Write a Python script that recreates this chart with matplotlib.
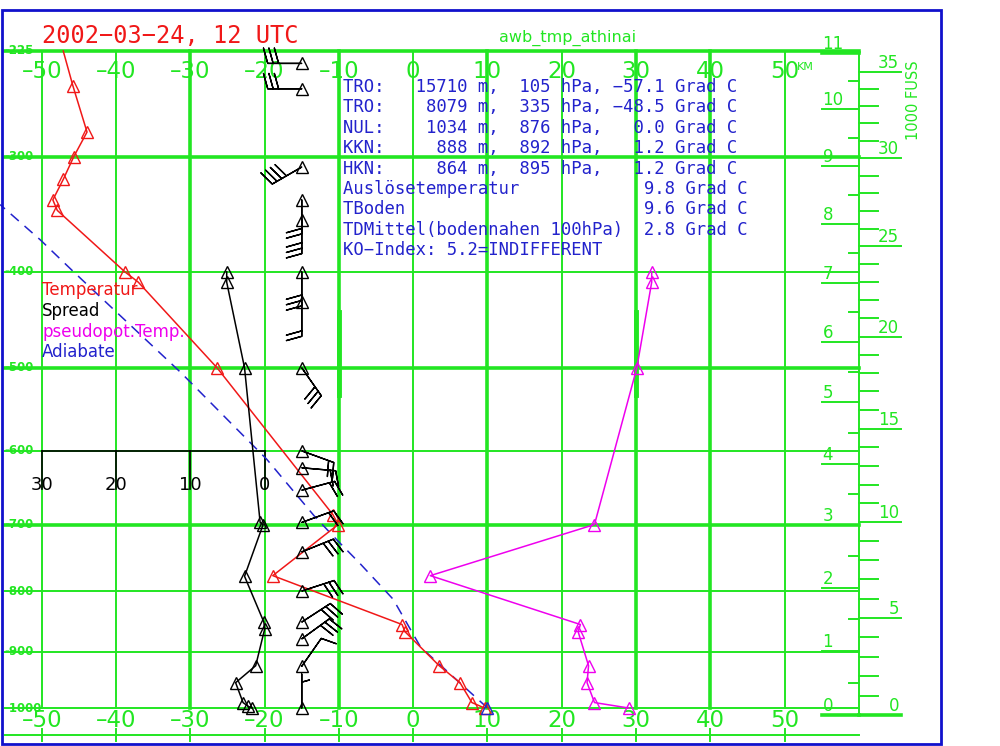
import numpy as np
import matplotlib
matplotlib.use("Agg")
import matplotlib.pyplot as plt
from matplotlib.transforms import Affine2D
from matplotlib.patches import Rectangle

# --- sounding 2002-03-24 12 UTC, Athinai ---
temp_p = [225, 248, 281, 300, 318, 335, 344, 400, 410, 500, 686, 700, 776, 854, 866, 924, 954, 990, 1000]
temp_t = [-47.1, -45.8, -43.9, -45.7, -47.1, -48.5, -47.9, -38.8, -37.0, -26.4, -10.8, -10.1,
          -18.9, -1.5, -1.1, 3.5, 6.3, 7.9, 9.6]

spread_p = [400, 410, 500, 697, 700, 777, 850, 862, 924, 954, 990, 997, 1000]
spread_v = [5.1, 5.1, 2.7, 0.6, 0.2, 2.7, 0.1, 0.0, 1.2, 3.9, 2.9, 2.2, 1.7]

thetae_p = [1000, 990, 954, 924, 866, 854, 776, 700, 500, 410, 400]
thetae_t = [29.0, 24.4, 23.4, 23.6, 22.2, 22.5, 2.3, 24.4, 30.1, 32.1, 32.1]

adiab_p = [1000, 892, 813, 757, 722, 688, 611, 506, 400, 370, 339]
adiab_t = [10.0, 1.0, -2.7, -7.2, -10.3, -13.3, -19.7, -31.2, -45.7, -50.2, -55.6]

wind_p = [233, 250, 308, 335, 352, 400, 430, 500, 600, 622, 652, 697, 740, 800, 850, 878, 925, 1000]
wind_dir = [270, 270, 240, 180, 180, 180, 180, 145, 110, 95, 75, 70, 68, 72, 57, 54, 35, 360]
wind_kt = [30, 30, 40, 20, 30, 30, 20, 30, 20, 20, 20, 20, 30, 30, 30, 30, 10, 5]

info_lines = [
    "TRO:   15710 m,  105 hPa, −57.1 Grad C",
    "TRO:    8079 m,  335 hPa, −48.5 Grad C",
    "NUL:    1034 m,  876 hPa,   0.0 Grad C",
    "KKN:     888 m,  892 hPa,   1.2 Grad C",
    "HKN:     864 m,  895 hPa,   1.2 Grad C",
    "Auslösetemperatur            9.8 Grad C",
    "TBoden                       9.6 Grad C",
    "TDMittel(bodennahen 100hPa)  2.8 Grad C",
    "KO−Index: 5.2=INDIFFERENT",
]

temp_ticks = [-50, -40, -30, -20, -10, 0, 10, 20, 30, 40, 50]
p_ticks = [225, 300, 400, 500, 600, 700, 800, 900, 1000]
spread_ticks = [30, 20, 10, 0]
km_ticks = list(range(0, 12))
kft_ticks = list(range(0, 36))

GREEN = "#22e622"
BLUE = "#2222cc"
RED = "#f01818"
MAG = "#ee00ee"

# --- Stueve-type geometry (p ** 0.286) ---
W, H = 1000, 746
K = 0.286
X0, DX = 41.7, 7.43          # pixel of -50 C, pixels per degree
Y_TOP, Y_BOT = 51.0, 708.0   # pixels of 225 and 1000 hPa
a_top, a_bot = 225 ** K, 1000 ** K
per_px = (a_bot - a_top) / (Y_BOT - Y_TOP)


def fwd(p):
    return np.power(np.clip(p, 1e-6, None), K)


def inv(y):
    return np.power(np.clip(y, 1e-6, None), 1.0 / K)


def p_at(ypx):
    return (a_top + (ypx - Y_TOP) * per_px) ** (1.0 / K)


def t_at(xpx):
    return -50 + (xpx - X0) / DX


def isa_p(z_km):
    return 1013.25 * (1 - 0.0065 * z_km * 1000 / 288.15) ** 5.2559


fig = plt.figure(figsize=(W / 100, H / 100), dpi=100)
ax = fig.add_axes([0, 0, 1, 1])
ax.set_yscale("function", functions=(fwd, inv))
ax.axis("off")
pix = Affine2D().scale(1.0 / W, -1.0 / H).translate(0, 1) + fig.transFigure

# grid
thick_t = [-30, -10, 10, 30, 40]
for t in temp_ticks:
    ax.plot([t, t], [225, 1000], color=GREEN, lw=2.6 if t in thick_t else 1.4, zorder=1)
thick_p = [225, 300, 500, 700]
for p in p_ticks:
    ax.plot([t_at(5), 60], [p, p], color=GREEN, lw=2.6 if p in thick_p else 1.4, zorder=1)
    ax.text(t_at(4), p, "-%d" % p, color=GREEN, fontsize=8.5, fontweight="bold",
            ha="left", va="center", zorder=2)
for t in [-10, 30]:
    ax.plot([t, t], [440, 531], color=GREEN, lw=3.5, zorder=1)

# temperature labels top and bottom, bottom ruler
for t in temp_ticks:
    lab = ("–%d" % -t) if t < 0 else "%d" % t
    for yy in (72, 721):
        ax.text(t, p_at(yy), lab, color=GREEN, fontsize=16.5, ha="center", va="center", zorder=2)
    ax.plot([t, t], [p_at(729), p_at(741)], color=GREEN, lw=1.4, zorder=1)
ax.plot([t_at(5), 60], [p_at(735)] * 2, color=GREEN, lw=1.4, zorder=1)
ax.text(797, 67, "KM", transform=pix, color=GREEN, fontsize=8, ha="left", va="center")

# height axis: km (left) and 1000 ft (right)
ax.plot([60, 60], [isa_p(0), 225], color=GREEN, lw=1.4, zorder=1)
for z in km_ticks:
    pz = isa_p(z)
    ax.plot([55, 60], [pz, pz], color=GREEN, lw=2.6 if z in (0, 11) else 1.4, zorder=1)
    ax.text(55.1, pz, "%d" % z, color=GREEN, fontsize=12, ha="left", va="bottom", zorder=2)
    if z < 11:
        ph = isa_p(z + 0.5)
        ax.plot([58.6, 60], [ph, ph], color=GREEN, lw=1.4, zorder=1)
for f in kft_ticks:
    pf = isa_p(f * 0.3048)
    if f % 5 == 0:
        ax.plot([60, 65.7], [pf, pf], color=GREEN, lw=2.6 if f == 0 else 1.4, zorder=1)
        ax.text(65.4, pf, "%d" % f, color=GREEN, fontsize=12, ha="right", va="bottom", zorder=2)
    else:
        ax.plot([60, 62.55], [pf, pf], color=GREEN, lw=1.4, zorder=1)
ax.text(913, 100, "1000 FUSS", transform=pix, color=GREEN, fontsize=10.5,
        rotation=90, ha="center", va="center")

# spread scale at 600 hPa
ax.plot([-50, -20], [600, 600], color="k", lw=1.2, zorder=2)
for s in spread_ticks:
    ax.plot([-20 - s] * 2, [600, p_at(489)], color="k", lw=1.2, zorder=2)
    ax.text(-20 - s, p_at(485), "%d" % s, color="k", fontsize=13, ha="center", va="center", zorder=2)

# curves
mk = dict(marker="^", ms=8, mfc="none", mew=1.0)
ax.plot(temp_t, temp_p, color=RED, lw=1.1, markevery=list(range(1, len(temp_p))), zorder=4, **mk)
ax.plot([-20 - s for s in spread_v], spread_p, color="k", lw=1.1, zorder=4, **mk)
ax.plot(thetae_t, thetae_p, color=MAG, lw=1.1, zorder=4, **mk)
ax.plot(adiab_t, adiab_p, color=BLUE, lw=1.1, dashes=(7, 5), zorder=3)
ax.plot(adiab_t[:1], adiab_p[:1], color=BLUE, ls="none", zorder=5, **mk)

# wind barbs at -15 C
wd = np.radians(wind_dir)
u = -np.array(wind_kt) * np.sin(wd)
v = -np.array(wind_kt) * np.cos(wd)
bx = [-15] * len(wind_p)
ax.barbs(bx, wind_p, u, v, length=7, lw=1.0, color="k", zorder=4,
         sizes=dict(spacing=0.16, height=0.45, width=0.25))
ax.plot(bx, wind_p, color="k", ls="none", zorder=5, **mk)

# texts
fig.text(42 / W, 1 - 36 / H, "2002−03−24, 12 UTC", color=RED, fontsize=17,
         family="DejaVu Sans Mono", ha="left", va="center")
fig.text(568 / W, 1 - 38 / H, "awb_tmp_athinai", color=GREEN, fontsize=11.5,
         ha="center", va="center")
for i, line in enumerate(info_lines):
    fig.text(343 / W, 1 - (87 + 20.4 * i) / H, line, color=BLUE, fontsize=12.4,
             family="DejaVu Sans Mono", ha="left", va="center")
for lab, col, yy in [("Temperatur", RED, 290), ("Spread", "k", 311),
                     ("pseudopot.Temp.", MAG, 332), ("Adiabate", BLUE, 352)]:
    fig.text(42 / W, 1 - yy / H, lab, color=col, fontsize=12, ha="left", va="center")

fig.add_artist(Rectangle((2, 10), 939, 734, transform=pix, fill=False,
                         edgecolor="#1111cc", lw=2))

ax.set_xlim(t_at(0), t_at(W))
ax.set_ylim(p_at(H), p_at(0))
fig.savefig("out.png", dpi=100)
